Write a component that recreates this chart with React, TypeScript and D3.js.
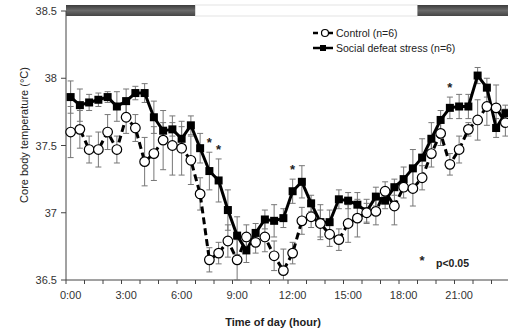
import React from "react";
import * as d3 from "d3";

// half-hour bins over the day
const slots = d3.range(48).map((i) => `${Math.floor(i / 2)}:${i % 2 ? "30" : "00"}`);
const tickLabels = ["0:00", "3:00", "6:00", "9:00", "12:00", "15:00", "18:00", "21:00"];
const yTicks = [36.5, 37, 37.5, 38, 38.5];

const sds = [
  37.86, 37.8, 37.82, 37.84, 37.86, 37.79, 37.83, 37.89, 37.89, 37.71, 37.61, 37.62, 37.55, 37.65, 37.48, 37.31,
  37.24, 37.02, 36.83, 36.72, 36.85, 36.95, 36.94, 36.96, 37.16, 37.23, 37.07, 36.93, 36.93, 37.1, 37.09, 37.06,
  37.01, 37.12, 37.09, 37.19, 37.25, 37.33, 37.41, 37.55, 37.69, 37.78, 37.79, 37.79, 38.02, 37.93, 37.63, 37.74,
];
const sdsSem = [
  0.12, 0.12, 0.06, 0.05, 0.04, 0.11, 0.09, 0.05, 0.07, 0.12, 0.06, 0.05, 0.09, 0.07, 0.11, 0.14,
  0.16, 0.15, 0.14, 0.09, 0.07, 0.07, 0.12, 0.07, 0.09, 0.12, 0.06, 0.13, 0.09, 0.07, 0.06, 0.09,
  0.09, 0.07, 0.06, 0.06, 0.09, 0.14, 0.14, 0.12, 0.07, 0.08, 0.09, 0.09, 0.06, 0.07, 0.07, 0.06,
];
const control = [
  37.6, 37.62, 37.47, 37.47, 37.6, 37.47, 37.71, 37.63, 37.38, 37.44, 37.54, 37.5, 37.48, 37.39, 37.14, 36.65,
  36.7, 36.79, 36.65, 36.82, 36.78, 36.82, 36.68, 36.57, 36.7, 36.94, 36.97, 36.92, 36.84, 36.8, 36.92, 36.96,
  37.0, 37.01, 37.16, 37.05, 37.19, 37.18, 37.26, 37.44, 37.59, 37.36, 37.47, 37.62, 37.69, 37.79, 37.78, 37.67,
];
const controlSem = [
  0.19, 0.14, 0.1, 0.13, 0.13, 0.1, 0.12, 0.1, 0.18, 0.2, 0.22, 0.22, 0.2, 0.18, 0.12, 0.09,
  0.08, 0.12, 0.15, 0.09, 0.08, 0.11, 0.11, 0.16, 0.08, 0.1, 0.08, 0.1, 0.09, 0.08, 0.14, 0.14,
  0.07, 0.1, 0.07, 0.14, 0.08, 0.13, 0.09, 0.1, 0.09, 0.08, 0.1, 0.05, 0.15, 0.14, 0.17, 0.1,
];
const significant = ["7:30", "8:00", "12:00", "20:30"];
const lightOn = "7:00";
const lightOff = "19:00";

const font = "'Liberation Sans', Arial, sans-serif";

export default function App() {
  const x = d3.scaleBand<string>().domain(slots).range([66, 510]).padding(0);
  const y = d3.scaleLinear().domain([36.5, 38.5]).range([280, 11]);
  const cx = (s: string) => (x(s) as number) + x.bandwidth() / 2;

  const line = d3
    .line<number>()
    .x((_, i) => cx(slots[i]))
    .y((d) => y(d));

  const hourTicks = d3.range(0, 49, 2).map((i) => 66 + i * x.bandwidth());

  const errBars = (vals: number[], sem: number[], key: string) =>
    vals.map((v, i) => {
      const px = cx(slots[i]);
      const y1 = y(v + sem[i]);
      const y2 = Math.min(y(v - sem[i]), 280);
      return (
        <g key={key + i} stroke="#777" strokeWidth={1}>
          <line x1={px} x2={px} y1={y1} y2={y2} />
          <line x1={px - 3} x2={px + 3} y1={y1} y2={y1} />
          {y(v - sem[i]) <= 280 && <line x1={px - 3} x2={px + 3} y1={y2} y2={y2} />}
        </g>
      );
    });

  const xOn = x(lightOn) as number;
  const xOff = x(lightOff) as number;

  return (
    <svg width={508} height={334} style={{ position: "absolute", left: 0, top: 0, background: "#fff" }} fontFamily={font}>
      <defs>
        <linearGradient id="dark" x1="0" y1="0" x2="0" y2="1">
          <stop offset="0" stopColor="#3c3c3c" />
          <stop offset="0.5" stopColor="#6a6a6a" />
          <stop offset="1" stopColor="#444" />
        </linearGradient>
      </defs>

      {/* light / dark phase bar */}
      <rect x={66} y={5} width={xOn - 66} height={11} fill="url(#dark)" />
      <rect x={xOn} y={5} width={xOff - xOn} height={11} fill="#fff" stroke="#ddd" strokeWidth={0.8} />
      <rect x={xOff} y={5} width={510 - xOff} height={11} fill="url(#dark)" />

      {/* y axis */}
      <line x1={66} x2={66} y1={y(38.5)} y2={280} stroke="#444" />
      {yTicks.map((t) => (
        <g key={t}>
          <line x1={61} x2={66} y1={y(t)} y2={y(t)} stroke="#444" />
          <text x={57} y={y(t) + 4} textAnchor="end" fontSize={11} fill="#333">
            {t}
          </text>
        </g>
      ))}
      <text transform="translate(28,135) rotate(-90)" textAnchor="middle" fontSize={11} fill="#222">
        Core body temperature (°C)
      </text>

      {/* x axis */}
      <line x1={66} x2={510} y1={280} y2={280} stroke="#444" />
      {hourTicks.map((t, i) => (
        <line key={i} x1={t} x2={t} y1={280} y2={284} stroke="#444" />
      ))}
      {tickLabels.map((t) => (
        <text key={t} x={cx(t)} y={299} textAnchor="middle" fontSize={11} fill="#333">
          {t}
        </text>
      ))}
      <text x={273} y={326} textAnchor="middle" fontSize={11} fontWeight="bold" fill="#222">
        Time of day (hour)
      </text>

      {/* error bars */}
      {errBars(sds, sdsSem, "s")}
      {errBars(control, controlSem, "c")}

      {/* social defeat stress */}
      <path d={line(sds) as string} fill="none" stroke="#000" strokeWidth={3} strokeLinejoin="round" />
      {sds.map((v, i) => (
        <rect key={"sq" + i} x={cx(slots[i]) - 4} y={y(v) - 4} width={8} height={8} fill="#000" />
      ))}

      {/* control */}
      <path d={line(control) as string} fill="none" stroke="#000" strokeWidth={3} strokeDasharray="7,4" />
      {control.map((v, i) => (
        <circle key={"c" + i} cx={cx(slots[i])} cy={y(v)} r={4.8} fill="#fff" stroke="#000" strokeWidth={1.2} />
      ))}

      {/* significance */}
      {significant.map((s) => {
        const i = slots.indexOf(s);
        return (
          <text key={s} x={cx(s)} y={y(sds[i] + sdsSem[i]) - 5} textAnchor="middle" fontSize={13} fontWeight="bold" fill="#222">
            *
          </text>
        );
      })}
      <text x={422} y={265} textAnchor="middle" fontSize={13} fontWeight="bold" fill="#222">
        *
      </text>
      <text x={436} y={267} fontSize={10.5} fontWeight="bold" fill="#222">
        p&lt;0.05
      </text>

      {/* legend */}
      <line x1={313} x2={333} y1={33} y2={33} stroke="#000" strokeWidth={2.5} strokeDasharray="5,3" />
      <circle cx={325} cy={33} r={3.5} fill="#fff" stroke="#000" strokeWidth={1.2} />
      <text x={336} y={37} fontSize={10.5} fill="#222">
        Control (n=6)
      </text>
      <line x1={313} x2={333} y1={48} y2={48} stroke="#000" strokeWidth={2.5} />
      <rect x={320} y={45} width={6} height={6} fill="#000" />
      <text x={336} y={52} fontSize={10.5} fill="#222">
        Social defeat stress (n=6)
      </text>
    </svg>
  );
}
